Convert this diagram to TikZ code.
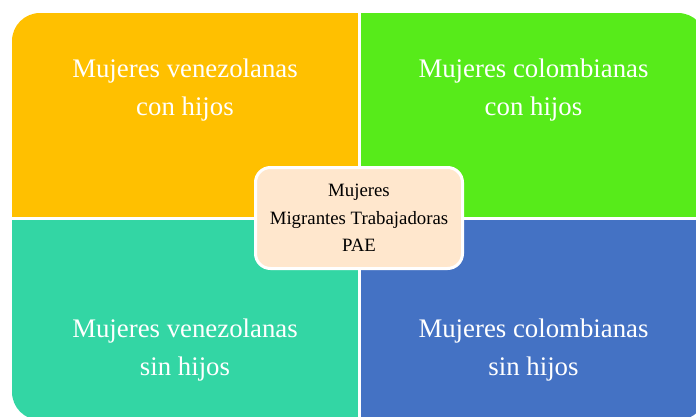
\documentclass[tikz,border=0pt]{standalone}
\usepackage{fontspec}
\setmainfont{Liberation Serif}
\definecolor{quadorange}{RGB}{255,192,0}
\definecolor{quadgreen}{RGB}{87,235,26}
\definecolor{quadteal}{RGB}{51,214,164}
\definecolor{quadblue}{RGB}{68,114,196}
\definecolor{centerpeach}{RGB}{255,231,205}
\begin{document}
\begin{tikzpicture}[x=1pt, y=-1pt,
    quadtext/.style={text=white, align=center, font=\fontsize{26.8}{37.5}\selectfont},
    centerbox/.style={draw=white, line width=3pt, fill=centerpeach, rounded corners=15pt,
      minimum width=207pt, minimum height=101pt, align=center,
      font=\fontsize{18.8}{27.5}\selectfont}]
  \useasboundingbox (0,0) rectangle (696,417);

  % Boxes
  \begin{scope}
    \clip (0,0) rectangle (696,417);
    \clip[rounded corners=28pt] (12,13) rectangle (706,420);
    \fill[quadorange] (12,13) rectangle (358,217);
    \fill[quadgreen] (361,13) rectangle (706,217);
    \fill[quadteal] (12,220) rectangle (358,420);
    \fill[quadblue] (361,220) rectangle (706,420);
  \end{scope}

  % Labels
  \node[quadtext] (venconhijos) at (185,90) {Mujeres venezolanas\\con hijos};
  \node[quadtext] (colconhijos) at (533.5,90) {Mujeres colombianas\\con hijos};
  \node[quadtext] (vensinhijos) at (185,350) {Mujeres venezolanas\\sin hijos};
  \node[quadtext] (colsinhijos) at (533.5,350) {Mujeres colombianas\\sin hijos};

  % Center
  \node[centerbox] (pae) at (359,218) {Mujeres\\Migrantes Trabajadoras\\PAE};
\end{tikzpicture}
\end{document}
